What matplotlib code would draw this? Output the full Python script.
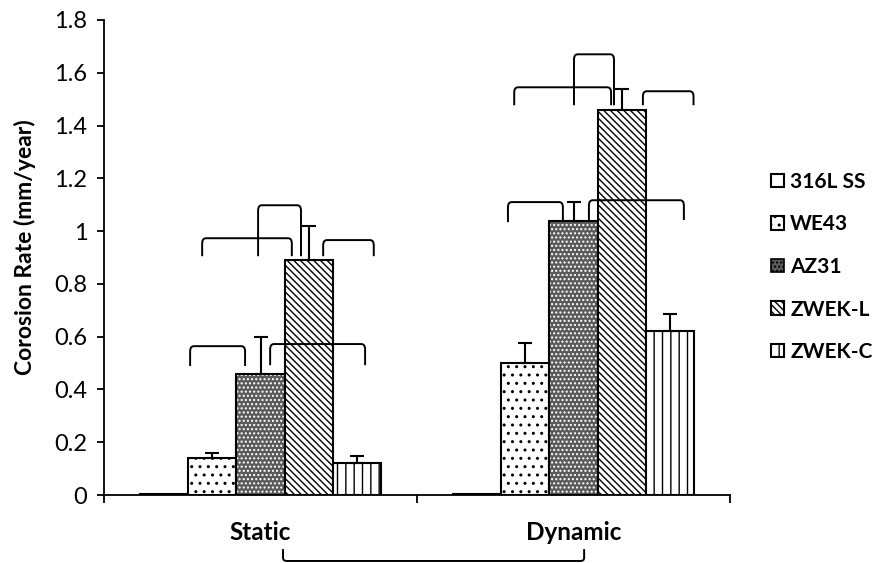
import matplotlib
matplotlib.use("Agg")
import matplotlib.pyplot as plt
import numpy as np
from matplotlib.path import Path
from matplotlib.patches import PathPatch
from matplotlib.ticker import FixedLocator, FuncFormatter

plt.rcParams['font.family'] = ['Lato', 'DejaVu Sans']
plt.rcParams['hatch.linewidth'] = 1.0

# ---- data ----
conditions = ["Static", "Dynamic"]
materials = ["316L SS", "WE43", "AZ31", "ZWEK-L", "ZWEK-C"]
rate_static = [0.005, 0.14, 0.46, 0.89, 0.12]
rate_dynamic = [0.005, 0.50, 1.04, 1.46, 0.62]
err_static = [0.0, 0.02, 0.14, 0.13, 0.028]
err_dynamic = [0.0, 0.075, 0.07, 0.08, 0.065]
y_ticks = [0, 0.2, 0.4, 0.6, 0.8, 1.0, 1.2, 1.4, 1.6, 1.8]

# significance brackets: (condition index, from slot, to slot, top, leg bottom)
brackets = [
    (0, 0.54, 1.68, 0.564, 0.489),
    (0, 2.20, 4.17, 0.572, 0.492),
    (0, 0.79, 2.65, 0.973, 0.905),
    (0, 1.95, 2.84, 1.098, 0.905),
    (0, 3.30, 4.35, 0.966, 0.905),
    (1, 0.64, 1.78, 1.110, 1.034),
    (1, 2.32, 4.29, 1.117, 1.042),
    (1, 0.77, 2.78, 1.545, 1.477),
    (1, 2.01, 2.84, 1.670, 1.477),
    (1, 3.44, 4.49, 1.530, 1.477),
]

rates = np.array([rate_static, rate_dynamic]).T
errs = np.array([err_static, err_dynamic]).T

fig = plt.figure(figsize=(8.79, 5.63), dpi=100)
ax = fig.add_axes([104 / 879, 1 - 495 / 563, 626 / 879, 475 / 563])

x = np.arange(len(conditions))
width = 0.154
styles = [
    dict(facecolor="white", hatch=None),
    dict(facecolor="white", hatch=".."),
    dict(facecolor="#5a5a5a", hatch="...."),
    dict(facecolor="white", hatch="\\\\\\\\\\"),
    dict(facecolor="white", hatch="||"),
]

handles = []
for i, (name, st) in enumerate(zip(materials, styles)):
    pos = x + (i - 2) * width
    if i == 2:
        # dark fill with light dot grid, outlined in black
        ax.bar(pos, rates[i], width, facecolor=st["facecolor"], edgecolor="white",
               hatch=st["hatch"], linewidth=0, zorder=2)
        ax.bar(pos, rates[i], width, facecolor="none", edgecolor="black",
               linewidth=1.5, zorder=3, label=name)
        hl = plt.Rectangle((0, 0), 1, 1, facecolor=st["facecolor"], edgecolor="black",
                           hatch="....", linewidth=1.2)
        handles.append(hl)
    else:
        h = ax.bar(pos, rates[i], width, facecolor=st["facecolor"], edgecolor="black",
                   hatch=st["hatch"], linewidth=1.5, zorder=3, label=name)
        handles.append(h)
    if np.any(errs[i] > 0):
        ax.errorbar(pos, rates[i], yerr=[np.zeros_like(errs[i]), errs[i]], fmt="none",
                    ecolor="black", elinewidth=1.5, capsize=5, capthick=1.5, zorder=4)


def draw_bracket(x0, x1, top, bottom, r_x=0.012, r_y=0.02, **kw):
    verts = [(x0, bottom), (x0, top - r_y), (x0, top), (x0 + r_x, top),
             (x1 - r_x, top), (x1, top), (x1, top - r_y), (x1, bottom)]
    codes = [Path.MOVETO, Path.LINETO, Path.CURVE3, Path.CURVE3,
             Path.LINETO, Path.CURVE3, Path.CURVE3, Path.LINETO]
    ax.add_patch(PathPatch(Path(verts, codes), fill=False, edgecolor="black",
                           linewidth=1.4, capstyle="butt", **kw))


for g, s0, s1, top, bot in brackets:
    draw_bracket(g + (s0 - 2) * width, g + (s1 - 2) * width, top, bot, zorder=5)

# bracket linking the two conditions, below the axis
draw_bracket(0.072, 1.034, -0.25, -0.205, r_y=-0.012, clip_on=False, zorder=5)

ax.set_xlim(-0.5, 1.5)
ax.set_ylim(0, 1.8)
ax.spines["top"].set_visible(False)
ax.spines["right"].set_visible(False)
ax.spines["left"].set_linewidth(1.3)
ax.spines["bottom"].set_linewidth(1.3)

ax.yaxis.set_major_locator(FixedLocator(y_ticks))
ax.yaxis.set_major_formatter(FuncFormatter(lambda v, p: f"{v:g}"))
ax.tick_params(axis="y", direction="out", length=5, width=1.3, labelsize=17, pad=7)

ax.set_xticks(x)
ax.set_xticklabels(conditions, fontweight="bold", fontsize=17.5)
ax.tick_params(axis="x", which="major", length=0, pad=19)
ax.set_xticks([-0.5, 0.5, 1.5], minor=True)
ax.tick_params(axis="x", which="minor", direction="out", length=6, width=1.3)

ax.set_ylabel("Corosion Rate (mm/year)", fontweight="bold", fontsize=16.5)
ax.yaxis.set_label_coords(-0.108, 0.522)

leg = fig.legend(handles, materials, loc="upper left", bbox_to_anchor=(771 / 879, 1 - 172 / 563),
                 frameon=False, prop=dict(weight="bold", size=15), handlelength=0.62,
                 handleheight=0.62, handletextpad=0.3, labelspacing=1.08, borderpad=0,
                 borderaxespad=0)

fig.savefig("out.png", dpi=100)
